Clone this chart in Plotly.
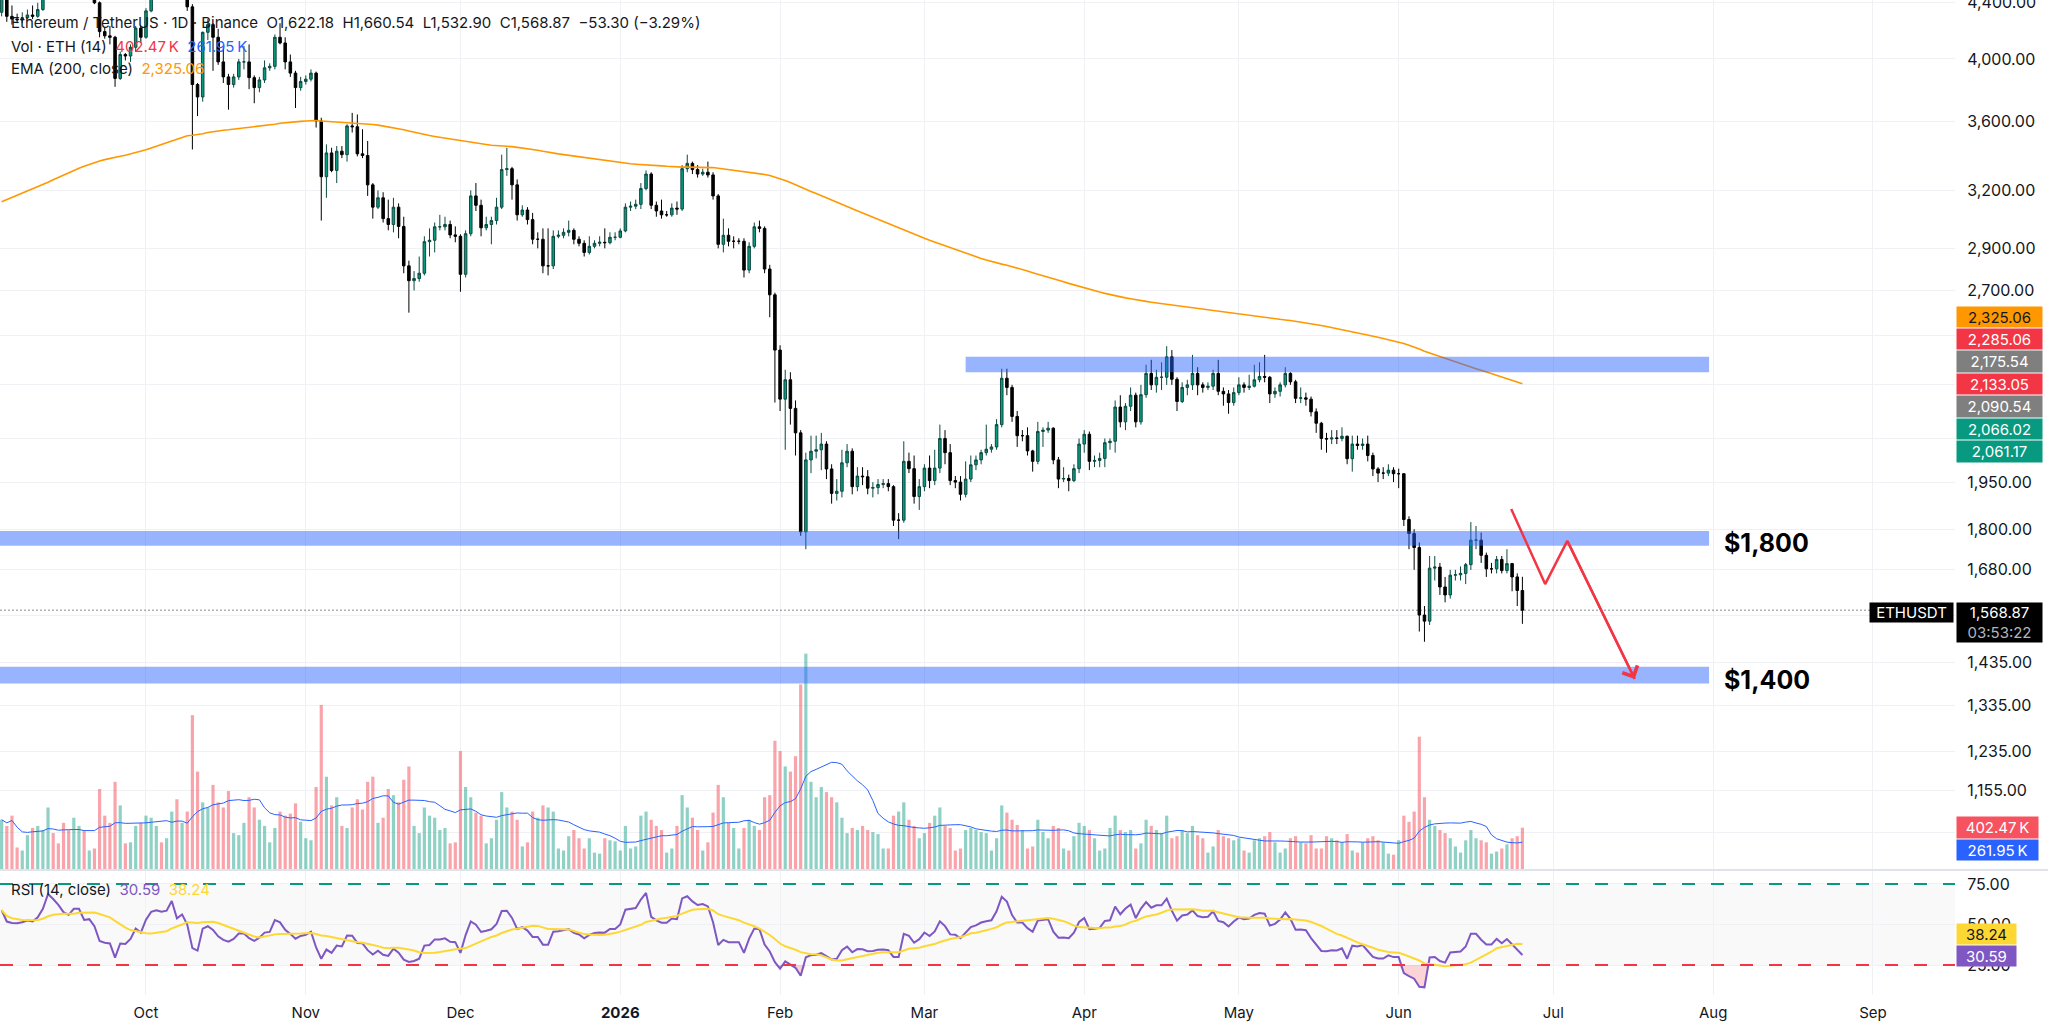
import numpy as np
import pandas as pd
import plotly.graph_objects as go

# ------------------------------------------------------------------ data
start_date = "2025-09-03"
first_open = 4330.0

close_sep = [4450, 4300, 4280, 4275, 4290, 4310, 4300, 4350, 4460, 4720, 4670, 4610, 4530, 4500, 4590, 4590, 4470, 4480, 4400, 4190, 4160, 4150, 3870, 4030, 4020, 4080, 4215, 4150]
high_sep = [4480, 4460, 4380, 4320, 4330, 4350, 4380, 4400, 4480, 4750, 4760, 4700, 4650, 4560, 4600, 4640, 4600, 4500, 4490, 4410, 4220, 4230, 4160, 4050, 4040, 4100, 4230, 4230]
low_sep = [4300, 4260, 4240, 4250, 4250, 4280, 4280, 4290, 4340, 4440, 4640, 4590, 4480, 4470, 4440, 4570, 4450, 4460, 4390, 4150, 4140, 4100, 3815, 3860, 3990, 3980, 4050, 4110]

close_oct = [4340, 4480, 4510, 4490, 4510, 4690, 4460, 4530, 4370, 3830, 3750, 4185, 4240, 4150, 3980, 3880, 3830, 3880, 3980, 3980, 3875, 3810, 3860, 3940, 3950, 4150, 4110, 3980, 3905, 3810, 3850]
high_oct = [4360, 4500, 4560, 4540, 4590, 4750, 4700, 4550, 4540, 4390, 3840, 4190, 4280, 4250, 4210, 4080, 3900, 3900, 4000, 4090, 4100, 3890, 3880, 3990, 3970, 4170, 4250, 4150, 4030, 3920, 3880]
low_oct = [4140, 4330, 4450, 4460, 4460, 4490, 4430, 4440, 4340, 3430, 3630, 3720, 4130, 3920, 3960, 3840, 3670, 3810, 3860, 3930, 3800, 3710, 3780, 3840, 3920, 3930, 4100, 3930, 3880, 3680, 3790]

close_nov = [3865, 3905, 3600, 3275, 3410, 3310, 3420, 3400, 3570, 3565, 3405, 3395, 3230, 3110, 3160, 3050, 3020, 3110, 3010, 2815, 2745, 2755, 2780, 2933, 2940, 3008, 3008, 3020, 2967, 2960]
high_nov = [3890, 3930, 3915, 3620, 3460, 3440, 3450, 3450, 3580, 3650, 3640, 3550, 3480, 3240, 3200, 3190, 3150, 3160, 3130, 3060, 2840, 2790, 2860, 2960, 3000, 3030, 3070, 3060, 3040, 3010]
low_nov = [3830, 3850, 3560, 3040, 3160, 3300, 3240, 3380, 3360, 3530, 3390, 3380, 3170, 3050, 3100, 3030, 2990, 2980, 2950, 2780, 2600, 2700, 2740, 2770, 2860, 2880, 2990, 2990, 2950, 2930]

close_dec = [2775, 2973, 3170, 3120, 3003, 3020, 3040, 3110, 3315, 3320, 3230, 3070, 3095, 3045, 2945, 2945, 2815, 2815, 2960, 2965, 2980, 2990, 2945, 2925, 2880, 2910, 2925, 2930, 2928, 2955, 2955]
high_dec = [2970, 2990, 3200, 3240, 3150, 3060, 3060, 3160, 3400, 3440, 3330, 3260, 3120, 3110, 3080, 2980, 3000, 3000, 2990, 2990, 3000, 3040, 3000, 2960, 2940, 2960, 2940, 2960, 3000, 2980, 2980]
low_dec = [2694, 2760, 2960, 3090, 2960, 2990, 2920, 3020, 3100, 3280, 3150, 3040, 3060, 3020, 2920, 2900, 2780, 2770, 2800, 2950, 2950, 2960, 2920, 2910, 2860, 2870, 2900, 2910, 2900, 2920, 2940]

close_jan = [2987, 3110, 3115, 3125, 3210, 3290, 3120, 3090, 3070, 3070, 3105, 3100, 3320, 3350, 3315, 3290, 3300, 3285, 3170, 2920, 2965, 2935, 2935, 2935, 2795, 2910, 3008, 3000, 2800, 2680, 2440]
high_jan = [3000, 3130, 3140, 3150, 3240, 3310, 3300, 3140, 3150, 3090, 3130, 3140, 3340, 3400, 3360, 3340, 3320, 3360, 3300, 3180, 3050, 3000, 2960, 2950, 2950, 2930, 3030, 3040, 3010, 2820, 2690]
low_jan = [2950, 2980, 3090, 3100, 3100, 3200, 3100, 3060, 3050, 3060, 3060, 3070, 3090, 3300, 3290, 3270, 3280, 3270, 3150, 2900, 2880, 2910, 2900, 2920, 2760, 2780, 2900, 2980, 2780, 2580, 2232]

close_feb = [2245, 2320, 2210, 2120, 1792, 2025, 2055, 2060, 2080, 1994, 1913, 1920, 2015, 2055, 1935, 1970, 1968, 1930, 1932, 1942, 1945, 1935, 1828, 1828, 2020, 1995, 1903, 1935]
high_feb = [2460, 2360, 2350, 2240, 2130, 2050, 2110, 2110, 2120, 2090, 2010, 1960, 2060, 2080, 2065, 2000, 2000, 1990, 1950, 1960, 1960, 1960, 1940, 1850, 2090, 2050, 2040, 1960]
low_feb = [2200, 2060, 2150, 2040, 1780, 1740, 1980, 2030, 1990, 1960, 1880, 1890, 1900, 2000, 1910, 1920, 1940, 1910, 1900, 1910, 1930, 1920, 1810, 1770, 1820, 1980, 1880, 1860]

close_mar = [1997, 1955, 1997, 2100, 2050, 1955, 1950, 1910, 1960, 2008, 2025, 2050, 2062, 2070, 2150, 2326, 2290, 2180, 2110, 2110, 2056, 2020, 2125, 2130, 2137, 2025, 1960, 1962, 1955, 1995, 2080]
high_mar = [2010, 2040, 2060, 2150, 2130, 2080, 1970, 1970, 2020, 2040, 2040, 2060, 2150, 2080, 2170, 2364, 2364, 2300, 2200, 2130, 2140, 2060, 2160, 2140, 2160, 2140, 2035, 2000, 1975, 2010, 2100]
low_mar = [1920, 1930, 1940, 1980, 2010, 1940, 1930, 1890, 1900, 1950, 1990, 2010, 2040, 2050, 2060, 2140, 2260, 2160, 2070, 2090, 2040, 1985, 2010, 2070, 2120, 2010, 1930, 1950, 1920, 1950, 1980]

close_apr = [2115, 2020, 2023, 2030, 2085, 2090, 2215, 2160, 2218, 2260, 2160, 2262, 2345, 2300, 2330, 2330, 2412, 2322, 2236, 2290, 2300, 2345, 2300, 2290, 2295, 2345, 2275, 2265, 2232, 2270]
high_apr = [2130, 2125, 2040, 2050, 2100, 2100, 2240, 2260, 2230, 2290, 2270, 2300, 2380, 2400, 2360, 2390, 2456, 2440, 2330, 2310, 2320, 2420, 2370, 2310, 2310, 2360, 2400, 2290, 2280, 2290]
low_apr = [2050, 1990, 2000, 2000, 2000, 2060, 2050, 2140, 2130, 2200, 2140, 2150, 2250, 2280, 2270, 2280, 2300, 2300, 2200, 2230, 2260, 2280, 2260, 2270, 2280, 2280, 2260, 2220, 2190, 2220]

close_may = [2300, 2290, 2295, 2320, 2333, 2330, 2265, 2275, 2300, 2345, 2312, 2248, 2250, 2245, 2197, 2155, 2100, 2098, 2102, 2100, 2108, 2029, 2080, 2075, 2080, 2040, 1994, 1980, 1980, 1990, 1978]
high_may = [2330, 2310, 2340, 2380, 2390, 2420, 2335, 2290, 2310, 2370, 2350, 2320, 2290, 2270, 2255, 2210, 2160, 2120, 2130, 2130, 2140, 2110, 2110, 2110, 2100, 2110, 2050, 2000, 2000, 2010, 2000]
low_may = [2260, 2270, 2280, 2290, 2310, 2310, 2230, 2250, 2255, 2290, 2300, 2230, 2230, 2220, 2180, 2120, 2060, 2050, 2080, 2080, 2090, 2010, 1985, 2060, 2060, 2020, 1970, 1950, 1960, 1970, 1950]

close_jun = [1978, 1830, 1787, 1745, 1556, 1540, 1685, 1688, 1632, 1610, 1665, 1666, 1670, 1695, 1767, 1767, 1722, 1683, 1683, 1710, 1678, 1698, 1660, 1622.18, 1568.87]
high_jun = [1995, 1980, 1840, 1800, 1760, 1580, 1720, 1720, 1700, 1660, 1680, 1680, 1690, 1700, 1822, 1810, 1790, 1730, 1700, 1720, 1720, 1740, 1700, 1670, 1660.54]
low_jun = [1930, 1810, 1740, 1680, 1513, 1487, 1530, 1650, 1610, 1590, 1600, 1650, 1650, 1640, 1680, 1740, 1700, 1660, 1670, 1670, 1670, 1670, 1620, 1580, 1532.90]

# daily volume, thousands of ETH
vol_sep = [480, 420, 520, 210, 180, 330, 400, 420, 380, 600, 350, 250, 450, 380, 500, 420, 380, 180, 200, 780, 520, 450, 850, 620, 250, 260, 420, 450]
vol_oct = [520, 500, 420, 260, 300, 560, 680, 450, 560, 1500, 950, 650, 600, 820, 650, 600, 760, 350, 330, 450, 700, 600, 480, 420, 260, 400, 560, 520, 540, 640, 460]
vol_nov = [300, 280, 800, 1600, 900, 620, 700, 420, 400, 600, 680, 580, 850, 900, 450, 500, 780, 720, 650, 870, 1000, 420, 350, 600, 520, 500, 380, 400, 250, 260]
vol_dec = [1150, 800, 700, 550, 520, 250, 300, 480, 750, 600, 560, 480, 220, 260, 560, 500, 620, 600, 560, 200, 180, 320, 380, 300, 200, 300, 160, 150, 300, 280, 270]
vol_jan = [180, 420, 200, 220, 520, 560, 480, 420, 380, 160, 200, 420, 720, 600, 500, 380, 180, 260, 550, 820, 700, 450, 400, 200, 400, 480, 420, 380, 700, 720, 1250]
vol_feb = [1150, 1000, 950, 1100, 1800, 2100, 850, 700, 800, 750, 700, 650, 500, 350, 400, 380, 420, 380, 360, 340, 200, 200, 520, 560, 650, 480, 420, 300]
vol_mar = [350, 450, 520, 600, 420, 400, 180, 200, 380, 400, 380, 360, 350, 180, 300, 620, 550, 480, 430, 380, 200, 220, 480, 360, 300, 420, 400, 200, 180, 320, 450]
vol_apr = [420, 380, 300, 180, 200, 400, 520, 380, 360, 380, 200, 250, 480, 420, 380, 350, 520, 300, 320, 380, 350, 420, 330, 300, 160, 220, 380, 320, 300, 280]
vol_may = [300, 180, 160, 280, 300, 320, 360, 260, 160, 200, 300, 320, 260, 250, 330, 200, 200, 320, 300, 280, 260, 340, 180, 160, 260, 300, 320, 280, 260, 150, 140]
vol_jun = [280, 520, 460, 560, 1290, 700, 480, 420, 380, 350, 300, 220, 160, 280, 380, 300, 280, 260, 150, 170, 200, 240, 300, 320, 402.47]

ema_seed = 3125.0          # EMA(200) value just before the first visible bar
rsi_seed_gain, rsi_seed_loss = 45.0, 38.0

# levels / drawings
zone_top = (2350, 2412)
zone_1800 = (1750, 1795)
zone_1400 = (1385, 1425)
zone_top_start = "2026-03-09"
zone_end = "2026-07-31 05:00"
level_labels = ["$1,800", "$1,400"]
arrow_dates = ["2026-06-22 20:00", "2026-06-29 10:00", "2026-07-03 17:00", "2026-07-16 19:00"]
arrow_prices = [1863, 1640, 1765, 1396]

month_ticks = ["2025-10-01", "2025-11-01", "2025-12-01", "2026-01-01", "2026-02-01", "2026-03-01",
               "2026-04-01", "2026-05-01", "2026-06-01", "2026-07-01", "2026-08-01", "2026-09-01"]
month_text = ["Oct", "Nov", "Dec", "<b>2026</b>", "Feb", "Mar", "Apr", "May", "Jun", "Jul", "Aug", "Sep"]

price_ticks = [4400, 4000, 3600, 3200, 2900, 2700, 2500, 2300, 2100, 1950, 1800, 1680, 1555, 1435, 1335, 1235, 1155, 1075]
price_tick_hidden = [2500, 2300, 2100, 1555, 1075]
rsi_ticks = [25, 50, 75]

right_labels = ["2,325.06", "2,285.06", "2,175.54", "2,133.05", "2,090.54", "2,066.02", "2,061.17"]
right_label_bg = ["#ff9800", "#f23645", "#7f7f7f", "#f23645", "#7f7f7f", "#089981", "#089981"]
right_label_fg = ["#131722", "white", "white", "white", "white", "white", "white"]
vol_labels = ["402.47\u2009K", "261.95\u2009K"]
rsi_labels = ["38.24", "30.59"]
last_label = ["ETHUSDT", "1,568.87", "03:53:22"]
header_change = "−53.30 (−3.29%)"

# ------------------------------------------------------------------ assemble
closes = close_sep + close_oct + close_nov + close_dec + close_jan + close_feb + close_mar + close_apr + close_may + close_jun
highs = high_sep + high_oct + high_nov + high_dec + high_jan + high_feb + high_mar + high_apr + high_may + high_jun
lows = low_sep + low_oct + low_nov + low_dec + low_jan + low_feb + low_mar + low_apr + low_may + low_jun
vols_k = vol_sep + vol_oct + vol_nov + vol_dec + vol_jan + vol_feb + vol_mar + vol_apr + vol_may + vol_jun
n = len(closes)
if not (len(highs) == n and len(lows) == n and len(vols_k) == n):
    raise ValueError(f"length mismatch {n} {len(highs)} {len(lows)} {len(vols_k)}")

dates = pd.date_range(start_date, periods=n, freq="D")
opens = [first_open] + closes[:-1]
c = np.array(closes, float)
o = np.array(opens, float)
vol = np.array(vols_k, float) * 1000.0
up = c >= o

# indicators
alpha = 2.0 / 201.0
ema = []
e = ema_seed
for v in c:
    e = e + alpha * (v - e)
    ema.append(e)

rsi = []
ag, al = rsi_seed_gain, rsi_seed_loss
prev = first_open
for v in c:
    d = v - prev
    prev = v
    ag = (ag * 13 + max(d, 0)) / 14
    al = (al * 13 + max(-d, 0)) / 14
    rsi.append(100 - 100 / (1 + ag / al))
rsi = np.array(rsi)
rsi_ma = pd.Series(rsi).rolling(14, min_periods=1).mean().values
vol_ma = pd.Series(vol).rolling(14, min_periods=1).mean().values

# ------------------------------------------------------------------ layout geometry
PW, PH = 1955.0, 995.0
PRICE_BOTTOM_PX = 869.0
RSI_TOP_PX = 871.0
FONT = "Inter, Roboto, 'Noto Sans', sans-serif"
TXT = "#131722"
GRID = "#f0f1f4"


def py(ypx):
    return 1 - ypx / PH


fig = go.Figure()

# volume (base axis y)
fig.add_trace(go.Bar(x=dates, y=vol, yaxis="y", xaxis="x",
                     marker=dict(color=np.where(up, "rgba(8,153,129,0.45)", "rgba(242,54,69,0.45)").tolist(),
                                 line=dict(width=0)),
                     width=0.62 * 86400000, hoverinfo="skip"))
fig.add_trace(go.Scatter(x=dates, y=vol_ma, yaxis="y", mode="lines",
                         line=dict(color="#2962ff", width=1), hoverinfo="skip"))

# price (overlay axis y2)
fig.add_trace(go.Scatter(x=dates, y=ema, yaxis="y2", mode="lines",
                         line=dict(color="#ff9800", width=1.6), hoverinfo="skip"))
fig.add_trace(go.Candlestick(x=dates, open=o, high=highs, low=lows, close=c, yaxis="y2",
                             increasing=dict(fillcolor="#089981", line=dict(color="#0b4a40", width=1)),
                             decreasing=dict(fillcolor="#000000", line=dict(color="#000000", width=1)),
                             whiskerwidth=0, hoverinfo="skip"))


def zone(x0, x1, lo, hi):
    fig.add_trace(go.Scatter(x=[x0, x1, x1, x0, x0], y=[lo, lo, hi, hi, lo], yaxis="y2",
                             mode="lines", fill="toself", fillcolor="rgba(41,98,255,0.48)",
                             line=dict(width=0), hoverinfo="skip"))


x_left = pd.Timestamp("2025-09-02")
zone(zone_top_start, zone_end, *zone_top)
zone(x_left, zone_end, *zone_1800)
zone(x_left, zone_end, *zone_1400)

# last price dotted line
fig.add_trace(go.Scatter(x=[x_left, pd.Timestamp("2026-09-04")], y=[closes[-1], closes[-1]], yaxis="y2",
                         mode="lines", line=dict(color="#131722", width=1, dash="1px,3px"), hoverinfo="skip"))

# red arrow path
fig.add_trace(go.Scatter(x=arrow_dates, y=arrow_prices, yaxis="y2", mode="lines",
                         line=dict(color="#f23645", width=2.5), hoverinfo="skip"))

# RSI pane
fig.add_trace(go.Scatter(x=dates, y=[25] * n, yaxis="y3", mode="lines", line=dict(width=0), hoverinfo="skip"))
fig.add_trace(go.Scatter(x=dates, y=np.minimum(rsi, 25), yaxis="y3", mode="lines", line=dict(width=0),
                         fill="tonexty", fillcolor="rgba(242,54,69,0.22)", hoverinfo="skip"))
fig.add_trace(go.Scatter(x=dates, y=rsi, yaxis="y3", mode="lines",
                         line=dict(color="#7e57c2", width=2), hoverinfo="skip"))
fig.add_trace(go.Scatter(x=dates, y=rsi_ma, yaxis="y3", mode="lines",
                         line=dict(color="#fdd835", width=2), hoverinfo="skip"))

shapes = [
    dict(type="rect", xref="paper", yref="y3", x0=0, x1=1, y0=25, y1=75,
         fillcolor="rgba(120,123,134,0.045)", line=dict(width=0), layer="below"),
    dict(type="line", xref="paper", yref="y3", x0=0, x1=1, y0=75, y1=75,
         line=dict(color="#089981", width=2, dash="13px,16px")),
    dict(type="line", xref="paper", yref="y3", x0=0, x1=1, y0=25, y1=25,
         line=dict(color="#f23645", width=2, dash="13px,16px")),
    dict(type="line", xref="paper", yref="paper", x0=0, x1=2048 / PW, y0=py(870), y1=py(870),
         line=dict(color="#e0e3eb", width=2)),
]

annotations = []


def box(text, ytop, ybot, xl, xr, bg, fg, size=15):
    pad = 2
    annotations.append(dict(xref="paper", yref="paper", x=xl / PW, y=py((ytop + ybot) / 2),
                            xanchor="left", yanchor="middle", text=text, showarrow=False,
                            bgcolor=bg, font=dict(color=fg, size=size, family=FONT),
                            width=xr - xl - 2 * pad - 2, height=ybot - ytop - 2 * pad - 2,
                            borderpad=pad, align="center", valign="middle"))


edges = [306, 328, 350, 373, 395, 418, 440, 463]
for i, t in enumerate(right_labels):
    box(t, edges[i], edges[i + 1], 1956, 2043, right_label_bg[i], right_label_fg[i])

box(vol_labels[0], 816, 839, 1956, 2039, "#f7525f", "white")
box(vol_labels[1], 839, 861, 1956, 2039, "#2962ff", "white")
box(rsi_labels[0], 923, 945, 1956, 2017, "#fdd835", TXT)
box(rsi_labels[1], 945, 967, 1956, 2017, "#7e57c2", "white")
box(last_label[0], 602, 623, 1869, 1954, "#000000", "white")
box(f"{last_label[1]}<br><span style='color:#b2b5be'>{last_label[2]}</span>", 602, 643, 1956, 2043, "#000000", "white")

# level labels
for lab, zz in zip(level_labels, [zone_1800, zone_1400]):
    annotations.append(dict(xref="paper", yref="y2", x=1722 / PW, y=np.log10(np.sqrt(zz[0] * zz[1])),
                            yshift=-5, xanchor="left", yanchor="middle", text=f"<b>{lab}</b>",
                            showarrow=False, font=dict(size=25, color="#000000", family=FONT)))

# arrow head
annotations.append(dict(xref="x", yref="y2", axref="x", ayref="y2",
                        x=arrow_dates[3], y=np.log10(arrow_prices[3]),
                        ax=arrow_dates[2], ay=np.log10(arrow_prices[2]),
                        showarrow=True, arrowhead=4, arrowsize=1.3, arrowwidth=2.5,
                        arrowcolor="#f23645", text=""))

# legends
leg1 = ("Ethereum / TetherUS · 1D · Binance&nbsp;&nbsp;"
        f"O{opens[-1]:,.2f}&nbsp;&nbsp;H{highs[-1]:,.2f}&nbsp;&nbsp;L{lows[-1]:,.2f}&nbsp;&nbsp;C{closes[-1]:,.2f}"
        f"&nbsp;&nbsp;{header_change}")
leg2 = (f"Vol · ETH (14)&nbsp;&nbsp;<span style='color:#f23645'>{vol_labels[0]}</span>&nbsp;&nbsp;"
        f"<span style='color:#2962ff'>{vol_labels[1]}</span>")
leg3 = f"EMA (200, close)&nbsp;&nbsp;<span style='color:#ff9800'>{right_labels[0]}</span>"
leg4 = (f"RSI (14, close)&nbsp;&nbsp;<span style='color:#7e57c2'>{rsi_labels[1]}</span>&nbsp;&nbsp;"
        f"<span style='color:#fdd835'>{rsi_labels[0]}</span>")
for txt, ypx in [(leg1, 23), (leg2, 46), (leg3, 68), (leg4, 889)]:
    annotations.append(dict(xref="paper", yref="paper", x=9 / PW, y=py(ypx), xanchor="left", yanchor="middle",
                            text=txt, showarrow=False, font=dict(size=15, color=TXT, family=FONT)))

tick_text = ["" if v in price_tick_hidden else f"{v:,.2f}" for v in price_ticks]

fig.update_layout(
    width=2048, height=1035,
    margin=dict(l=0, r=2048 - PW, t=0, b=1035 - PH, autoexpand=False),
    paper_bgcolor="white", plot_bgcolor="white",
    showlegend=False, hovermode=False,
    font=dict(family=FONT, color=TXT, size=15),
    xaxis=dict(type="date", anchor="y3", domain=[0, 1], automargin=False,
               range=["2025-09-02 16:19", "2026-09-16 22:00"],
               tickvals=month_ticks, ticktext=month_text,
               showgrid=True, gridcolor=GRID, gridwidth=1, zeroline=False, showline=False,
               ticks="outside", ticklen=4, tickcolor="rgba(0,0,0,0)",
               tickfont=dict(size=15, color=TXT, family=FONT),
               rangeslider=dict(visible=False)),
    yaxis=dict(domain=[1 - PRICE_BOTTOM_PX / PH, 1], range=[0, 869 * 9750.0], automargin=False,
               visible=False, showgrid=False, zeroline=False),
    yaxis2=dict(overlaying="y", type="log", side="right", anchor="x", automargin=False,
                range=[np.log10(1011), np.log10(4421)],
                tickvals=price_ticks, ticktext=tick_text, ticklabeloverflow="allow",
                showgrid=True, gridcolor=GRID, zeroline=False, showline=False,
                ticks="outside", ticklen=8, tickcolor="rgba(0,0,0,0)",
                tickfont=dict(size=16, color=TXT, family=FONT)),
    yaxis3=dict(domain=[0, 1 - RSI_TOP_PX / PH], range=[6.5, 83.0], side="right", anchor="x",
                automargin=False,
                tickvals=rsi_ticks, ticktext=[f"{v:.2f}" for v in rsi_ticks],
                showgrid=True, gridcolor=GRID, zeroline=False, showline=False,
                ticks="outside", ticklen=8, tickcolor="rgba(0,0,0,0)",
                tickfont=dict(size=16, color=TXT, family=FONT)),
    shapes=shapes,
    annotations=annotations,
)

fig.write_html("out.html")
